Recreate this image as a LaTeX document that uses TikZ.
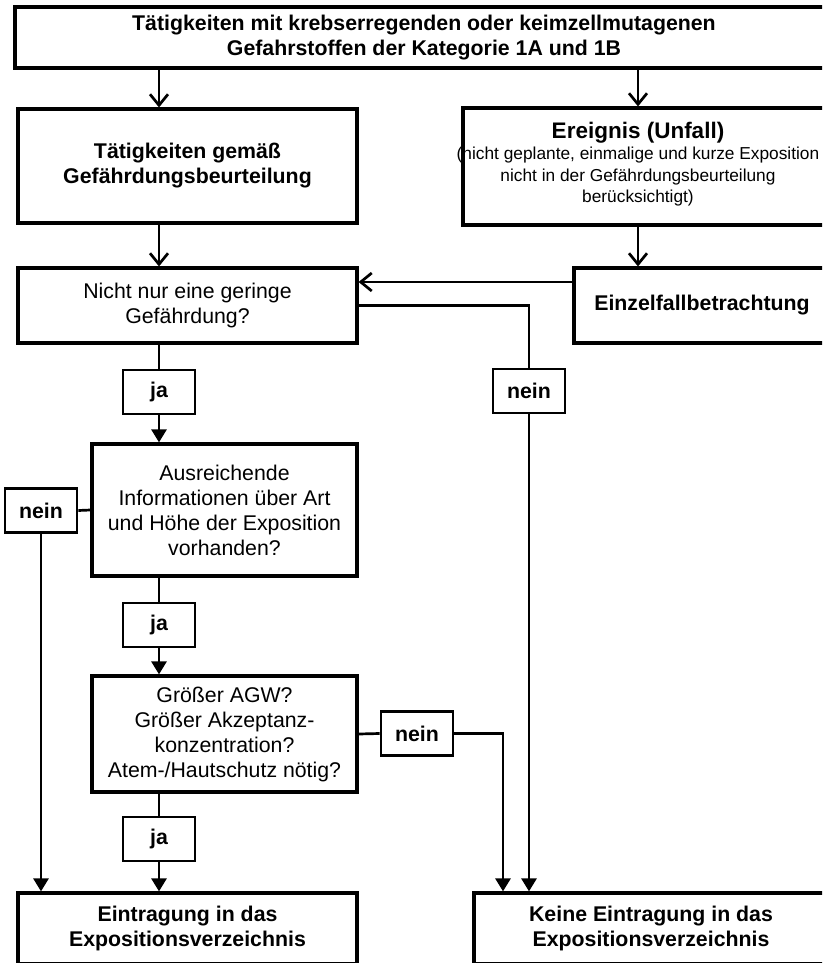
\documentclass[tikz,border=0pt]{standalone}
\usepackage{fontspec}
\setmainfont{Liberation Sans}
\usetikzlibrary{arrows.meta,positioning}

\newcommand\flowsize{\fontsize{21.3pt}{25pt}\selectfont}
\newcommand\detailsize{\fontsize{17.3pt}{21.5pt}\selectfont}

\tikzset{
  box/.style={draw,line width=3.2pt,align=center,inner sep=0pt,font=\flowsize},
  boldbox/.style={box,font=\flowsize\bfseries},
  answer/.style={draw,line width=2.7pt,font=\flowsize\bfseries,
    minimum width=72pt,minimum height=44pt,inner sep=0pt},
  flow/.style={line width=2.7pt},
  barb/.style={flow,-{Straight Barb[length=11pt,width=18pt,line width=2.7pt]}},
  fwd/.style={flow,-{Triangle[length=13pt,width=15pt]}}
}

\begin{document}
\begin{tikzpicture}[x=1pt,y=-1pt]
  \useasboundingbox (0,0) rectangle (822,963);
  \clip (0,0) rectangle (822,963);

  % upper part
  \node[boldbox,minimum width=818pt,minimum height=61pt] (top) at (424,37.5)
    {Tätigkeiten mit krebserregenden oder keimzellmutagenen\\Gefahrstoffen der Kategorie 1A und 1B};
  \node[boldbox,minimum width=339pt,minimum height=114pt] (taetig) at (187.5,166)
    {Tätigkeiten gemäß\\Gefährdungsbeurteilung};
  \node[box,minimum width=367pt,minimum height=117pt] (ereignis) at (646.5,166.5) {};
  \node[align=center,font=\detailsize] (ereignistxt) at (638,164)
    {{\fontsize{22.5pt}{26pt}\selectfont\bfseries Ereignis (Unfall)}\\(nicht geplante, einmalige und kurze Exposition\\nicht in der Gefährdungsbeurteilung\\berücksichtigt)};
  \node[boldbox,minimum width=256pt,minimum height=75pt] (einzel) at (702,305.5)
    {Einzelfallbetrachtung};
  \node[box,minimum width=339pt,minimum height=75pt] (gering) at (187.5,305.5)
    {Nicht nur eine geringe\\Gefährdung?};

  % questions
  \node[answer] (ja1) at (159,392) {ja};
  \node[answer] (nein1) at (529,391) {nein};
  \node[box,minimum width=265pt,minimum height=132pt] (info) at (224.5,510)
    {Ausreichende\\Informationen über Art\\und Höhe der Exposition\\vorhanden?};
  \node[answer] (nein2) at (41,510.5) {nein};
  \node[answer] (ja2) at (159,625) {ja};
  \node[box,minimum width=265pt,minimum height=116pt] (agw) at (224.5,734)
    {Größer AGW?\\Größer Akzeptanz-\\konzentration?\\Atem-/Hautschutz nötig?};
  \node[answer] (nein3) at (417,733.5) {nein};
  \node[answer] (ja3) at (159,839) {ja};

  % results
  \node[boldbox,minimum width=339pt,minimum height=71pt] (eintrag) at (187.5,928.5)
    {Eintragung in das\\Expositionsverzeichnis};
  \node[boldbox,minimum width=354pt,minimum height=71pt] (keine) at (651,928.5)
    {Keine Eintragung in das\\Expositionsverzeichnis};
  \coordinate (drop) at (503,733.5);

  % connectors
  \draw[barb] (ja1 |- top.south) -- (ja1 |- taetig.north);
  \draw[barb] (ereignistxt |- top.south) -- (ereignistxt |- ereignis.north);
  \draw[barb] (ja1 |- taetig.south) -- (ja1 |- gering.north);
  \draw[barb] (ereignistxt |- ereignis.south) -- (ereignistxt |- einzel.north);
  \draw[barb] ([yshift=23.5pt]einzel.west) -- ([yshift=23.5pt]gering.east);
  \draw[flow] (gering.east) -| (nein1.north);
  \draw[fwd] (nein1) -- (nein1 |- keine.north);
  \draw[flow] (ja1 |- gering.south) -- (ja1);
  \draw[fwd] (ja1) -- (ja1 |- info.north);
  \draw[flow] (info.west) -- (nein2.east);
  \draw[fwd] (nein2) -- (nein2 |- eintrag.north);
  \draw[flow] (ja1 |- info.south) -- (ja2);
  \draw[fwd] (ja2) -- (ja2 |- agw.north);
  \draw[flow] (agw.east) -- (nein3.west);
  \draw[fwd] (nein3.east) -- (drop) -- (drop |- keine.north);
  \draw[flow] (ja1 |- agw.south) -- (ja3);
  \draw[fwd] (ja3) -- (ja3 |- eintrag.north);
\end{tikzpicture}
\end{document}
